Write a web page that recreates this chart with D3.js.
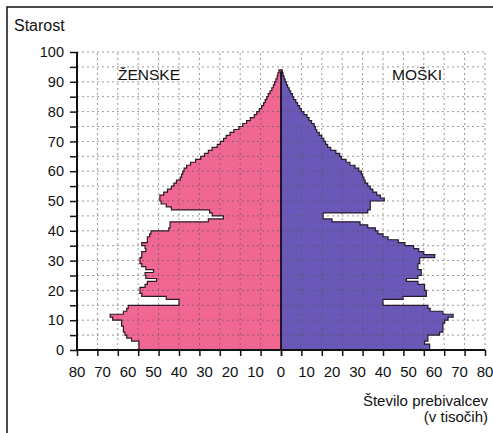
<!DOCTYPE html>
<html><head><meta charset="utf-8">
<script src="https://cdn.jsdelivr.net/npm/d3@7"></script>
<style>
body{margin:0;background:#fff}
svg{display:block}
text{font-family:"Liberation Sans",Arial,sans-serif;fill:#111}
</style>
</head><body>
<svg id="c" width="493" height="433"></svg>
<script>
// ---- data (thousands of inhabitants by single year of age, 0..93) ----
const ages = d3.range(0, 94);
const female = [
  55.7,55.7,55.7,58.6,60.5,61.2,61.8,61.8,62.5,62.5,
  66,67,61.8,60.5,59.9,40,40,45,54.6,55.3,
  55.3,53.3,52.4,48.8,53,53.3,50,53,54.6,55.3,
  55.3,54.6,54.6,53,53.3,54.6,52.4,52.4,51.5,51,
  44,43.5,43.5,28.5,22.6,27,28,43,45,47,
  47.5,47.5,46,44.5,43,42,41,39.5,39,38.5,
  38,37,35.5,33.5,31.5,30,28.5,27,25,23.8,
  22.5,21.5,20,18.5,16.5,15,13.5,12,10.5,9.5,
  8.5,7.6,6.8,6.2,5.6,5,4.3,3.6,3,2.5,
  2,1.5,1.2,0.8
];
const male = [
  58.3,58.3,56.3,57.6,57.6,62.2,63.5,63.5,63.5,64.2,
  65.5,67.5,63.5,58.5,57.6,40,40,47.8,57,57,
  56.3,56.3,53.7,49.2,53.7,55,55,53.7,53.7,54.4,
  54.4,60.3,56,54,52,48.6,46,42,40,38,
  37,34,31,20,16.5,16.5,34,35,35,35,
  40.5,39,37.5,36,35,34,33,32.5,32,31.5,
  30.5,29,27,25.5,23.7,23,21.5,19.5,18.3,17.5,
  16.8,16,15,14,13.5,13,12,11,10.2,9,
  8,7.3,6.5,5.8,5,4.5,3.8,3.2,2.6,2.1,
  1.6,1.2,0.8,0.5
];
const yTickValues = d3.range(0, 101, 5);
const xTickValues = d3.range(0, 81, 8);
const xLabelValues = [10, 20, 30, 40, 50, 60, 70, 80];

// ---- layout ----
const svg = d3.select("#c");
const y = d3.scaleLinear().domain([0, 100]).range([350, 52]);
const xM = d3.scaleLinear().domain([0, 80]).range([281, 485]);
const xF = d3.scaleLinear().domain([0, 80]).range([281, 77]);

// frame
svg.append("rect").attr("x", 7).attr("y", 7).attr("width", 520).attr("height", 460)
  .attr("fill", "none").attr("stroke", "#111").attr("stroke-width", 1.5);

function rows(vals) {
  const r = ages.map((a, i) => ({age: a, v: vals[i]}));
  r.push({age: ages.length, v: 0});
  return r;
}
const series = [
  {vals: female, x: xF, fill: "#ef6792"},
  {vals: male, x: xM, fill: "#6a58b8"}
];
series.forEach(s => {
  const data = rows(s.vals);
  const area = d3.area().y(d => y(d.age)).x0(s.x(0)).x1(d => s.x(d.v)).curve(d3.curveStepBefore);
  svg.append("path").attr("d", area(data)).attr("fill", s.fill);
});

// grid (on top, dashed)
const grid = svg.append("g").attr("stroke", "#555").attr("stroke-opacity", 0.6)
  .attr("stroke-width", 1).attr("stroke-dasharray", "2,3");
yTickValues.filter(v => v > 0).forEach(v => {
  grid.append("line").attr("x1", xF(80)).attr("x2", xM(80)).attr("y1", y(v)).attr("y2", y(v));
});
[xF, xM].forEach(sc => xTickValues.filter(v => v > 0).forEach(v => {
  grid.append("line").attr("x1", sc(v)).attr("x2", sc(v)).attr("y1", y(0)).attr("y2", y(100));
}));

// outlines
series.forEach(s => {
  const data = rows(s.vals);
  const line = d3.line().x(d => s.x(d.v)).y(d => y(d.age)).curve(d3.curveStepBefore);
  svg.append("path").attr("d", line(data)).attr("fill", "none")
    .attr("stroke", "#2a1a2a").attr("stroke-width", 1.2);
});

// centre line
svg.append("line").attr("x1", xM(0)).attr("x2", xM(0)).attr("y1", y(0)).attr("y2", y(93.5))
  .attr("stroke", "#000").attr("stroke-width", 1.6);

// y axis
const yAxis = svg.append("g").attr("transform", `translate(${xF(80)},0)`)
  .call(d3.axisLeft(y).tickValues(yTickValues).tickFormat(d => d % 10 === 0 ? d : "")
    .tickSize(7).tickPadding(6));
yAxis.select(".domain").remove();
yAxis.selectAll(".tick line").attr("stroke", "#111").attr("stroke-width", 1.5);
yAxis.selectAll("text").style("font-size", "14.5px").attr("fill", "#111");
svg.append("line").attr("x1", xF(80)).attr("x2", xF(80)).attr("y1", y(100)).attr("y2", y(0) + 1)
  .attr("stroke", "#111").attr("stroke-width", 2);

// x axis ticks
[xF, xM].forEach(sc => {
  const g = svg.append("g").attr("transform", `translate(0,${y(0)})`)
    .call(d3.axisBottom(sc).tickValues(xTickValues).tickFormat("").tickSize(6));
  g.select(".domain").remove();
  g.selectAll(".tick line").attr("stroke", "#111").attr("stroke-width", 1.5);
});
svg.append("line").attr("x1", xF(80)).attr("x2", xM(80)).attr("y1", y(0)).attr("y2", y(0))
  .attr("stroke", "#111").attr("stroke-width", 2);

// x labels
const xl = svg.append("g").style("font-size", "15px").attr("text-anchor", "middle");
xl.append("text").attr("x", xM(0)).attr("y", 377).text("0");
[xF, xM].forEach(sc => xLabelValues.forEach(v => {
  xl.append("text").attr("x", sc(v)).attr("y", 377).text(v);
}));

// titles
svg.append("text").attr("x", 14).attr("y", 31).style("font-size", "16px").text("Starost");
svg.append("text").attr("x", 118).attr("y", 80).style("font-size", "15.5px").text("ŽENSKE");
svg.append("text").attr("x", 392).attr("y", 80).style("font-size", "15.5px").text("MOŠKI");
svg.append("text").attr("x", 488).attr("y", 406).attr("text-anchor", "end").style("font-size", "15px").text("Število prebivalcev");
svg.append("text").attr("x", 488).attr("y", 422).attr("text-anchor", "end").style("font-size", "15px").text("(v tisočih)");
</script>
</body></html>
